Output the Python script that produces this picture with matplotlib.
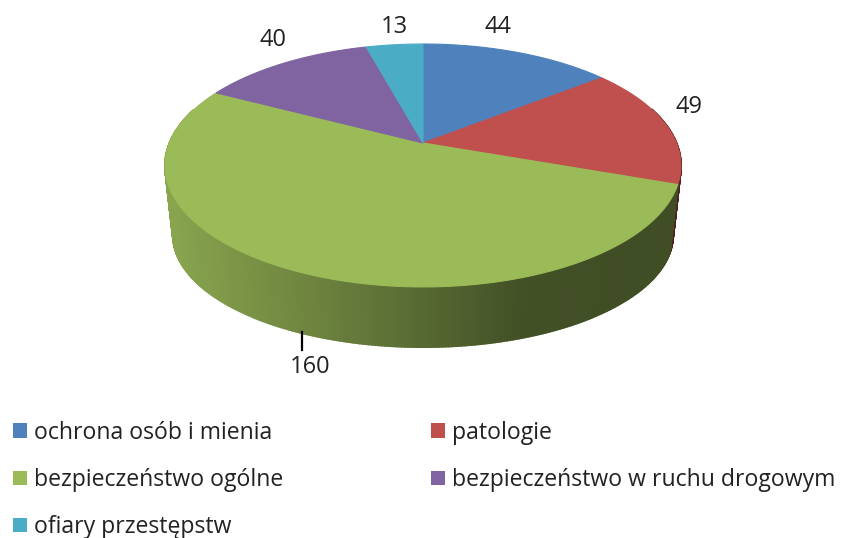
#!/usr/bin/env python
# -*- coding: utf-8 -*-

import numpy as np
import matplotlib
matplotlib.use('Agg')
import matplotlib.pyplot as plt
from matplotlib.patches import Patch

labels = ['ochrona osób i mienia', 'patologie', 'bezpieczeństwo ogólne',
          'bezpieczeństwo w ruchu drogowym', 'ofiary przestępstw']
values = [44, 49, 160, 40, 13]
colors = ['#4F81BD', '#C0504D', '#9BBB59', '#8064A2', '#4BACC6']

plt.rcParams['font.family'] = ['Open Sans', 'DejaVu Sans']

# label positions in picture pixels
label_xy = [(498, 27), (689, 107), (310, 367), (273, 40), (394, 27)]

# perspective of the disc
P = 0.185
CX = 423


def project(t, apex_y, sx, sy):
    u = np.sin(t)
    v = np.cos(t)
    d = 1 + P * v
    return CX + sx * u / d, apex_y - sy * v / d


def shade(x):
    # side of the pie gets darker from left to right
    return np.interp(x, [172, 300, 423, 520, 680], [0.88, 0.72, 0.56, 0.43, 0.41])


fig = plt.figure(figsize=(8.43, 5.38), dpi=100)
ax = fig.add_axes([0, 0, 1, 1])
ax.set_xlim(0, 843)
ax.set_ylim(538, 0)
ax.axis('off')

edges = np.cumsum([0] + values) / sum(values) * 2 * np.pi

# side walls first, only the front part can be seen
for i in range(len(values)):
    n = max(int((edges[i + 1] - edges[i]) * 90), 2)
    ts = np.linspace(edges[i], edges[i + 1], n + 1)
    rgb = np.array(matplotlib.colors.to_rgb(colors[i]))
    for a, b in zip(ts[:-1], ts[1:]):
        if np.cos((a + b) / 2) > 0.3:
            continue
        x1, y1 = project(np.array([a, b]), 143, 253.5, 117.3)
        x2, y2 = project(np.array([b, a]), 214.5, 245.7, 108)
        c = rgb * shade((x1.mean() + x2.mean()) / 2)
        ax.fill(np.r_[x1, x2], np.r_[y1, y2], color=c, lw=1.4, zorder=2)

# top of the pie
for i in range(len(values)):
    ts = np.linspace(edges[i], edges[i + 1], 200)
    x, y = project(ts, 143, 253.5, 117.3)
    ax.fill(np.r_[CX, x], np.r_[143, y], color=colors[i], lw=0.8, zorder=3)

for v, (x, y) in zip(values, label_xy):
    ax.text(x, y, str(v), fontsize=17, color='#222222', ha='center', va='center')

ax.plot([302, 302], [332, 350], color='black', lw=1.6, zorder=4)

# matplotlib fills legend columns first
order = [0, 2, 4, 1, 3]
handles = [Patch(facecolor=colors[i], edgecolor='none') for i in order]
ax.legend(handles, [labels[i] for i in order], ncol=2, frameon=False,
          loc='upper left', bbox_to_anchor=(13, 421), bbox_transform=ax.transData,
          fontsize=16.6, labelcolor='#222222', borderpad=0, borderaxespad=0,
          handlelength=0.61, handleheight=0.61, handletextpad=0.3,
          labelspacing=1.0, columnspacing=6.4)

fig.savefig('out.png', dpi=100)
